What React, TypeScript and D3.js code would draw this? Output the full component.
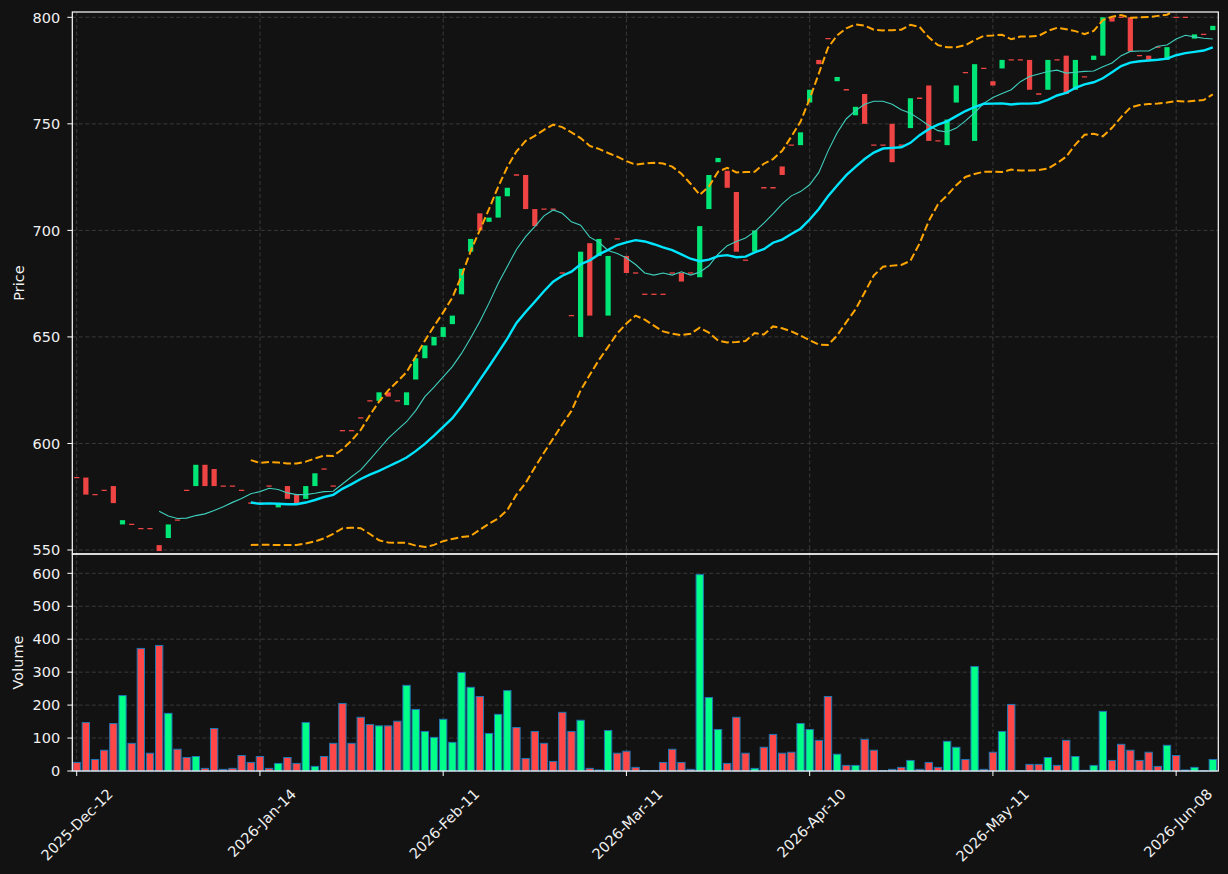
import * as d3 from "d3";

// candle opens / closes, one per trading day (index 0 = 2025-Dec-12)
const opens = [
  584, 584, 576, 578, 580, 562, 562, 560, 560, 552.3,
  555.6, 564, 578, 580, 590, 588, 580, 580, 578, 572,
  572, 580, 570, 580, 576, 574, 580, 588, 580, 606,
  606, 612, 620, 620, 624, 620, 618, 630, 640, 646,
  650, 656, 670, 690, 708, 704, 706, 716, 726, 726,
  710, 710, 710, 680, 660, 650, 694, 688, 660, 696,
  688, 680, 670, 670, 670, 680, 680, 680, 678, 710,
  732, 728, 718, 686, 690, 720, 720, 730, 740, 740,
  760, 780, 790, 770, 766, 754, 764, 740, 740, 750,
  740, 748, 762, 768, 742, 740, 760, 774, 742, 776,
  770, 776, 780, 780, 780, 764, 766, 780, 782, 766,
  772, 780, 782, 800, 800, 800, 782, 782, 786, 780,
  800, 800, 790, 792, 794,
];
const closes = [
  584, 576, 576, 578, 572, 564, 562, 560, 560, 549.5,
  562, 564, 578, 590, 580, 580, 580, 580, 578, 572,
  572, 580, 572, 574, 572, 580, 586, 588, 580, 606,
  606, 612, 620, 624, 622, 620, 624, 640, 646, 650,
  654.6, 660, 682, 696, 700, 706, 716, 720, 726, 710,
  702, 710, 710, 680, 660, 690, 660, 696, 688, 696,
  680, 680, 670, 670, 670, 680, 676, 680, 702, 726,
  734, 720, 690, 686, 700, 720, 720, 726, 740, 746,
  766, 778, 790, 772, 766, 758, 750, 740, 740, 732,
  740, 762, 762, 742, 742, 752, 768, 774, 778, 776,
  768, 780, 780, 780, 766, 764, 780, 780, 764, 780,
  772, 782, 800, 798, 800, 784, 782, 780, 786, 786,
  800, 800, 792, 792, 796,
];
const volumes = [
  26, 147, 35, 63, 144, 229, 84, 372, 54, 381,
  175, 66, 41, 44, 8, 129, 5, 8, 47, 26,
  44, 8, 23, 41, 23, 147, 14, 44, 84, 205,
  84, 163, 141, 137, 137, 151, 260, 187, 120, 102,
  157, 87, 299, 254, 226, 114, 172, 244, 132, 38,
  120, 84, 29, 178, 120, 154, 8, 3, 123, 54,
  60, 11, 1, 1, 26, 66, 26, 5, 596, 223,
  126, 23, 163, 54, 8, 72, 111, 54, 57, 144,
  126, 93, 226, 51, 17, 17, 96, 63, 1, 5,
  11, 32, 5, 26, 11, 90, 72, 35, 317, 5,
  57, 120, 202, 1, 20, 20, 41, 17, 93, 44,
  2, 17, 181, 32, 81, 63, 32, 57, 14, 78,
  47, 3, 11, 1, 35,
];

const xTickIdx = [0, 20, 40, 60, 80, 100, 120];
const xTickLabels = ["2025-Dec-12", "2026-Jan-14", "2026-Feb-11", "2026-Mar-11", "2026-Apr-10", "2026-May-11", "2026-Jun-08"];
const priceTicks = [550, 600, 650, 700, 750, 800];
const volumeTicks = [0, 100, 200, 300, 400, 500, 600];

const BG = "#121212";
const UP = "#00e676";
const DOWN = "#ef4444";
const VUP = "#00ff88";
const VDOWN = "#ff4747";
const TXT = "#f0f0f0";
const GRID = "#3a3a3a";
const FONT = "'DejaVu Sans', sans-serif";

const sma = (vals: number[], n: number) =>
  vals.map((_, i) => (i < n - 1 ? null : d3.mean(vals.slice(i - n + 1, i + 1))!));

const bands = (vals: number[], n: number, k: number) =>
  vals.map((_, i) => {
    if (i < n - 1) return null;
    const w = vals.slice(i - n + 1, i + 1);
    const m = d3.mean(w)!;
    const sd = Math.sqrt(d3.mean(w, v => (v - m) ** 2)!);
    return { up: m + k * sd, lo: m - k * sd };
  });

export default function App() {
  const W = 1228, H = 874;
  const L = 72.3, R = 1218.3;
  const pTop = 12, pBot = 554, vBot = 771;

  const x = d3.scaleLinear().domain([-0.48, 124.6]).range([L, R]);
  const step = x(1) - x(0);
  const y = d3.scaleLinear().domain([550, 800]).range([550, 17.3]);
  const yv = d3.scaleLinear().domain([0, 600]).range([vBot, 573.3]);

  const ma10 = sma(closes, 10);
  const ma20 = sma(closes, 20);
  const bb = bands(closes, 20, 2);

  const line = d3.line<number | null>()
    .defined(d => d != null)
    .x((_, i) => x(i))
    .y(d => y(d as number));
  const upper = bb.map(b => (b ? b.up : null));
  const lower = bb.map(b => (b ? b.lo : null));

  const bodyW = step * 0.57;
  const barW = step * 0.8;

  return (
    <div style={{ position: "absolute", left: 0, top: 0 }}>
      <svg width={W} height={H} style={{ display: "block", background: BG, fontFamily: FONT }}>
        <rect width={W} height={H} fill={BG} />
        <defs>
          <clipPath id="pclip">
            <rect x={L} y={pTop} width={R - L} height={pBot - pTop} />
          </clipPath>
        </defs>

        {/* grid */}
        {priceTicks.map(t => (
          <line key={"pg" + t} x1={L} x2={R} y1={y(t)} y2={y(t)} stroke={GRID} strokeDasharray="4,2.5" strokeWidth={1} />
        ))}
        {volumeTicks.slice(1).map(t => (
          <line key={"vg" + t} x1={L} x2={R} y1={yv(t)} y2={yv(t)} stroke={GRID} strokeDasharray="4,2.5" strokeWidth={1} />
        ))}
        {xTickIdx.map(i => (
          <g key={"xg" + i}>
            <line x1={x(i)} x2={x(i)} y1={pTop} y2={pBot} stroke={GRID} strokeDasharray="4,2.5" />
            <line x1={x(i)} x2={x(i)} y1={pBot} y2={vBot} stroke={GRID} strokeDasharray="4,2.5" />
          </g>
        ))}

        {/* candles */}
        <g clipPath="url(#pclip)">
          {opens.map((o, i) => {
            const c = closes[i];
            if (o === c) {
              return (
                <line key={"c" + i} x1={x(i) - bodyW / 2} x2={x(i) + bodyW / 2} y1={y(c)} y2={y(c)} stroke={DOWN} strokeWidth={1.3} />
              );
            }
            return (
              <rect key={"c" + i} x={x(i) - bodyW / 2} width={bodyW}
                y={y(Math.max(o, c))} height={Math.abs(y(o) - y(c))}
                fill={c > o ? UP : DOWN} />
            );
          })}

          {/* bollinger + moving averages */}
          <path d={line(upper)!} fill="none" stroke="#ffa500" strokeWidth={2} strokeDasharray="7.7,3.3" />
          <path d={line(lower)!} fill="none" stroke="#ffa500" strokeWidth={2} strokeDasharray="7.7,3.3" />
          <path d={line(ma10)!} fill="none" stroke="#3fcfbd" strokeWidth={1.1} />
          <path d={line(ma20)!} fill="none" stroke="#00e5ff" strokeWidth={2.4} />
        </g>

        {/* volume */}
        {volumes.map((v, i) => (
          <rect key={"v" + i} x={x(i) - barW / 2} width={barW} y={yv(v)} height={vBot - yv(v)}
            fill={closes[i] > opens[i] ? VUP : VDOWN} stroke="#1f77b4" strokeWidth={1} />
        ))}

        {/* frames */}
        <rect x={L} y={pTop} width={R - L} height={pBot - pTop} fill="none" stroke="#ffffff" strokeWidth={1.2} />
        <rect x={L} y={pBot} width={R - L} height={vBot - pBot} fill="none" stroke="#ffffff" strokeWidth={1.2} />

        {/* y axes */}
        {priceTicks.map(t => (
          <g key={"pt" + t}>
            <line x1={L - 5} x2={L} y1={y(t)} y2={y(t)} stroke="#ffffff" />
            <text x={L - 12} y={y(t)} dy="0.36em" textAnchor="end" fontSize={14.5} fill={TXT}>{t}</text>
          </g>
        ))}
        {volumeTicks.map(t => (
          <g key={"vt" + t}>
            <line x1={L - 5} x2={L} y1={yv(t)} y2={yv(t)} stroke="#ffffff" />
            <text x={L - 12} y={yv(t)} dy="0.36em" textAnchor="end" fontSize={14.5} fill={TXT}>{t}</text>
          </g>
        ))}
        <text transform={`translate(24,${(pTop + pBot) / 2}) rotate(-90)`} textAnchor="middle" fontSize={14.5} fill={TXT}>Price</text>
        <text transform={`translate(23,${(pBot + vBot) / 2}) rotate(-90)`} textAnchor="middle" fontSize={14.5} fill={TXT}>Volume</text>

        {/* x axis */}
        {xTickIdx.map((i, k) => (
          <g key={"xt" + i}>
            <line x1={x(i)} x2={x(i)} y1={vBot} y2={vBot + 5} stroke="#ffffff" />
            <text transform={`translate(${x(i) + 37},795) rotate(-45)`} textAnchor="end" fontSize={14.5} fill={TXT}>
              {xTickLabels[k]}
            </text>
          </g>
        ))}
      </svg>
    </div>
  );
}
